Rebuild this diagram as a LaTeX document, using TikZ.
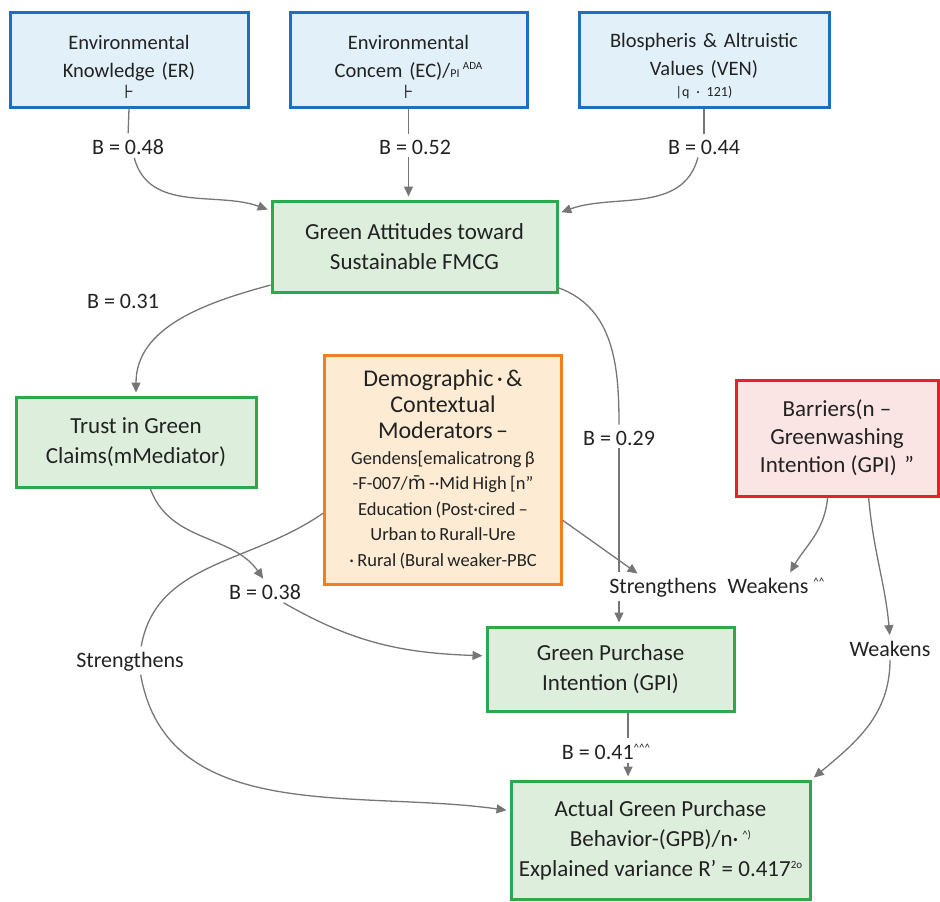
\documentclass[tikz,border=0pt]{standalone}
\usepackage{fontspec}
\setmainfont{Carlito}
\newfontfamily\symbolfont{DejaVu Sans}
\usepackage{tikz}
\usetikzlibrary{arrows.meta}
\definecolor{boxblue}{HTML}{1F6FC1}
\definecolor{fillblue}{HTML}{E2F0FA}
\definecolor{boxgreen}{HTML}{2EA84C}
\definecolor{fillgreen}{HTML}{DDEEDC}
\definecolor{boxorange}{HTML}{F07F22}
\definecolor{fillorange}{HTML}{FDEBD4}
\definecolor{boxred}{HTML}{E4222B}
\definecolor{fillred}{HTML}{FBE4E4}
\definecolor{linkgray}{HTML}{767676}
\definecolor{inkdark}{HTML}{222222}
\newcommand{\newBox}[6]{\node[#2,minimum width=#4pt,minimum height=#5pt](#1) at (#3){#6};}
\newcommand{\newLabel}[3]{\node[coef](#1) at (#2){#3};}
\newcommand{\newLink}[3]{\draw[link,->] (#1) to [#3] (#2);}
\newcommand{\newLine}[3]{\draw[link] (#1) to [#3] (#2);}
\newcommand{\topgap}{\rule{0pt}{28pt}}
\newcommand{\tick}{\par{\symbolfont\fontsize{19}{21}\selectfont ⊦\par}}
\newcommand{\sups}[1]{\raisebox{8pt}{\fontsize{11}{11}\selectfont #1}}

\begin{document}
\begin{tikzpicture}[
    % Default arrow tip
    >={Triangle[length=10pt,width=9pt]},shorten >=3pt,
    % one unit is one pixel of the sketch, y runs down
    x=1pt,y=-1pt,
    % Box and label styles
    every node/.style={text=inkdark},
    knowbox/.style={draw=boxblue,fill=fillblue,line width=3pt,text width=228pt,align=center,
      font=\fontsize{20.5}{28}\selectfont},
    greenbox/.style={draw=boxgreen,fill=fillgreen,line width=3pt,align=center,
      font=\fontsize{23}{30}\selectfont},
    modbox/.style={draw=boxorange,fill=fillorange,line width=3pt,text width=230pt,align=center},
    barbox/.style={draw=boxred,fill=fillred,line width=3pt,align=center,
      font=\fontsize{23}{28}\selectfont},
    coef/.style={font=\fontsize{22}{26}\selectfont,inner sep=3pt},
    % Edge stroke
    link/.style={draw=linkgray,line width=1.3pt}
    ]
    \useasboundingbox (0,0) rectangle (940,902);

    \newBox{er}{knowbox}{129,59.5}{238}{95}{\topgap Environmental\\Knowledge (ER)\tick}
    \newBox{ec}{knowbox}{408.5,59.5}{237}{95}{\topgap Environmental\\Concem (EC)/{\fontsize{12}{12}\selectfont PI}\,\sups{ADA}\tick}
    \newBox{ven}{knowbox}{704,59.5}{250}{95}{\topgap Blospheris \& Altruistic\\Values (VEN)\par{\fontsize{14}{21}\selectfont |q · 121)\par}}
    \newBox{att}{greenbox}{414.5,246.5}{285}{91}{Green Attitudes toward\\Sustainable FMCG}
    \newBox{trust}{greenbox}{136,442}{240}{90}{Trust in Green\\Claims(mMediator)}
    \newBox{mod}{modbox}{443,469.5}{236}{229}{{\fontsize{24}{26}\selectfont Demographic · \&\\Contextual\\Moderators –\par}
      {\fontsize{18.5}{25.5}\selectfont Gendens[emalicatrong β\\-F-007/{\symbolfont m̄} -·Mid High [n”\\Education (Post·cired –\\Urban to Rurall-Ure\\· Rural (Bural weaker-PBC\par}}
    \newBox{bar}{barbox}{837,438}{202}{116}{Barriers(n –\\Greenwashing\\Intention (GPI)\,\,”}
    \newBox{gpi}{greenbox}{610.5,669}{247}{84}{Green Purchase\\Intention (GPI)}
    \newBox{gpb}{greenbox}{660.5,840}{299}{118}{Actual Green Purchase\\Behavior-(GPB)/n·\,\sups{\textasciicircum)}\\Explained variance R' = 0.417\sups{2o}}

    \newLabel{b48}{128,147}{B = 0.48}
    \newLabel{b52}{415,147}{B = 0.52}
    \newLabel{b44}{704,147}{B = 0.44}
    \newLabel{b31}{123,301}{B = 0.31}
    \newLabel{b29}{619,438}{B = 0.29}
    \newLabel{b38}{265,592}{B = 0.38}
    \newLabel{b41}{606,752}{B = 0.41\sups{\textasciicircum\textasciicircum\textasciicircum}}
    \newLabel{strL}{130,662}{Strengthens}
    \newLabel{strR}{663,588}{Strengthens}
    \newLabel{wkL}{776,586}{Weakens \sups{\textasciicircum\textasciicircum}}
    \newLabel{wkR}{890,649}{Weakens}

    % antecedents into attitudes
    \newLine{er.south}{b48.north}{}
    \newLink{b48.-60}{att.166}{out=-75,in=160}
    \newLine{ec.south}{ec.south |- b52.north}{}
    \newLink{ec.south |- b52.south}{ec.south |- att.north}{}
    \newLine{ven.south}{b44.north}{}
    \newLink{b44.-120}{att.13}{out=-105,in=20}

    % attitudes onwards
    \newLink{att.195}{trust.north}{out=195,in=90}
    \newLine{att.-16}{b29.north}{out=-20,in=90}
    \newLine{b29.south}{b29.south |- strR.north}{}
    \newLink{b29.south |- strR.south}{b29.south |- gpi.north}{}

    % moderators
    \newLink{mod.-23}{strR.151}{}
    \newLine{mod.200}{strL.50}{out=215,in=80}
    \newLink{strL.-50}{gpb.169}{out=-80,in=172}

    % mediator path
    \newLink{trust.-73}{b38.north}{out=-70,in=125}
    \newLink{b38.-30}{gpi.174}{out=-30,in=178}
    \newLine{gpi.-68}{gpi.-68 |- b41.north}{}
    \newLink{gpi.-68 |- b41.south}{gpi.-68 |- gpb.north}{}

    % barriers
    \newLink{bar.-99}{wkL.41}{out=-95,in=60}
    \newLink{bar.-62}{wkR.north}{out=-85,in=95}
    \newLink{wkR.south}{gpb.north east}{out=-90,in=40}
\end{tikzpicture}
\end{document}
